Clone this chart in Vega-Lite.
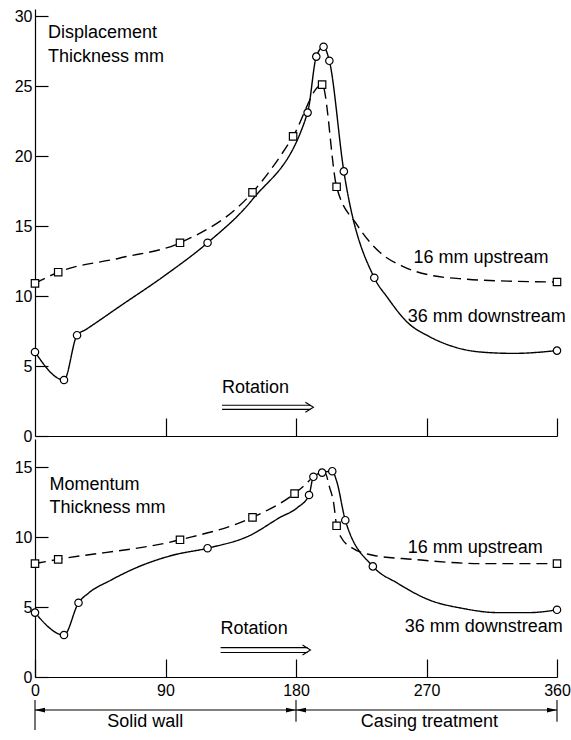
{
  "$schema": "https://vega.github.io/schema/vega-lite/v6.json",
  "background": "white",
  "padding": {"left": 14, "top": 8, "right": 0, "bottom": 0},
  "spacing": 3,
  "bounds": "flush",
  "config": {
    "view": {"stroke": null},
    "axis": {"domainColor": "black", "tickColor": "black", "labelColor": "black", "labelFont": "Liberation Sans", "labelFontSize": 16, "grid": false, "domainWidth": 1.2, "tickWidth": 1.2},
    "text": {"font": "Liberation Sans", "fontSize": 18, "color": "black"}
  },
  "vconcat": [
    {
      "width": 522,
      "height": 427,
      "encoding": {
        "x": {"field": "angle", "type": "quantitative", "scale": {"domain": [0, 360], "nice": false}, "axis": {"values": [90, 180, 270, 360], "labels": false, "tickSize": -18, "title": null}},
        "y": {"field": "thickness", "type": "quantitative", "scale": {"domain": [0, 30.5], "nice": false}, "axis": {"values": [0, 5, 10, 15, 20, 25, 30], "tickSize": -13, "labelPadding": 16, "title": null}}
      },
      "layer": [
        {
          "data": {"values": [
            {"series": "down", "angle": 0, "thickness": 6.0}, {"series": "down", "angle": 20, "thickness": 4.0}, {"series": "down", "angle": 29, "thickness": 7.2}, {"series": "down", "angle": 35, "thickness": 7.6}, {"series": "down", "angle": 59, "thickness": 9.3}, {"series": "down", "angle": 90, "thickness": 11.5}, {"series": "down", "angle": 119, "thickness": 13.8}, {"series": "down", "angle": 150, "thickness": 16.9}, {"series": "down", "angle": 188, "thickness": 23.1}, {"series": "down", "angle": 194, "thickness": 27.1}, {"series": "down", "angle": 199, "thickness": 27.8}, {"series": "down", "angle": 203, "thickness": 26.8}, {"series": "down", "angle": 213, "thickness": 18.9}, {"series": "down", "angle": 234, "thickness": 11.3}, {"series": "down", "angle": 243, "thickness": 9.9}, {"series": "down", "angle": 257, "thickness": 8.1}, {"series": "down", "angle": 272, "thickness": 7.1}, {"series": "down", "angle": 288, "thickness": 6.4}, {"series": "down", "angle": 307, "thickness": 6.0}, {"series": "down", "angle": 330, "thickness": 5.9}, {"series": "down", "angle": 360, "thickness": 6.1},
            {"series": "up", "angle": 0, "thickness": 10.9}, {"series": "up", "angle": 16, "thickness": 11.7}, {"series": "up", "angle": 58, "thickness": 12.7}, {"series": "up", "angle": 100, "thickness": 13.8}, {"series": "up", "angle": 150, "thickness": 17.4}, {"series": "up", "angle": 178, "thickness": 21.4}, {"series": "up", "angle": 198, "thickness": 25.1}, {"series": "up", "angle": 208, "thickness": 17.8}, {"series": "up", "angle": 222, "thickness": 15.1}, {"series": "up", "angle": 238, "thickness": 13.1}, {"series": "up", "angle": 254, "thickness": 12.1}, {"series": "up", "angle": 272, "thickness": 11.5}, {"series": "up", "angle": 298, "thickness": 11.2}, {"series": "up", "angle": 330, "thickness": 11.05}, {"series": "up", "angle": 360, "thickness": 11.0}
          ]},
          "mark": {"type": "line", "interpolate": "monotone", "color": "black", "strokeWidth": 1.4},
          "encoding": {"strokeDash": {"field": "series", "type": "nominal", "scale": {"domain": ["down", "up"], "range": [[1, 0], [11, 6]]}, "legend": null}}
        },
        {
          "data": {"values": [
            {"series": "down", "angle": 0, "thickness": 6.0}, {"series": "down", "angle": 20, "thickness": 4.0}, {"series": "down", "angle": 29, "thickness": 7.2}, {"series": "down", "angle": 119, "thickness": 13.8}, {"series": "down", "angle": 188, "thickness": 23.1}, {"series": "down", "angle": 194, "thickness": 27.1}, {"series": "down", "angle": 199, "thickness": 27.8}, {"series": "down", "angle": 203, "thickness": 26.8}, {"series": "down", "angle": 213, "thickness": 18.9}, {"series": "down", "angle": 234, "thickness": 11.3}, {"series": "down", "angle": 360, "thickness": 6.1},
            {"series": "up", "angle": 0, "thickness": 10.9}, {"series": "up", "angle": 16, "thickness": 11.7}, {"series": "up", "angle": 100, "thickness": 13.8}, {"series": "up", "angle": 150, "thickness": 17.4}, {"series": "up", "angle": 178, "thickness": 21.4}, {"series": "up", "angle": 198, "thickness": 25.1}, {"series": "up", "angle": 208, "thickness": 17.8}, {"series": "up", "angle": 360, "thickness": 11.0}
          ]},
          "mark": {"type": "point", "filled": true, "fill": "white", "stroke": "black", "strokeWidth": 1.2, "size": 55, "opacity": 1},
          "encoding": {"shape": {"field": "series", "type": "nominal", "scale": {"domain": ["down", "up"], "range": ["circle", "square"]}, "legend": null}}
        },
        {
          "data": {"values": [
            {"angle": 9, "thickness": 28.8, "label": "Displacement"},
            {"angle": 9, "thickness": 27.1, "label": "Thickness mm"},
            {"angle": 261, "thickness": 12.7, "label": "16 mm upstream"},
            {"angle": 257, "thickness": 8.5, "label": "36 mm downstream"},
            {"angle": 129, "thickness": 3.4, "label": "Rotation"}
          ]},
          "mark": {"type": "text", "align": "left", "baseline": "middle"},
          "encoding": {"text": {"field": "label"}}
        },
        {
          "data": {"values": [
            {"angle": 129, "angle2": 190, "thickness": 2.2},
            {"angle": 129, "angle2": 190, "thickness": 1.9}
          ]},
          "mark": {"type": "rule", "color": "black", "strokeWidth": 1.1},
          "encoding": {"x2": {"field": "angle2"}}
        },
        {
          "data": {"values": [{"angle": 192, "thickness": 2.05}]},
          "mark": {"type": "point", "shape": "M-4,-2.5L0,0L-4,2.5", "size": 16, "filled": false, "stroke": "black", "strokeWidth": 1.1, "opacity": 1},
          "encoding": {}
        }
      ]
    },
    {
      "width": 522,
      "height": 238,
      "encoding": {
        "x": {"field": "angle", "type": "quantitative", "scale": {"domain": [0, 360], "nice": false}, "axis": {"values": [0, 90, 180, 270, 360], "tickSize": -18, "labelPadding": 23, "labelFlush": false, "title": null}},
        "y": {"field": "thickness", "type": "quantitative", "scale": {"domain": [0, 17], "nice": false}, "axis": {"values": [0, 5, 10, 15], "tickSize": -13, "labelPadding": 16, "title": null}}
      },
      "layer": [
        {
          "data": {"values": [
            {"series": "down", "angle": 0, "thickness": 4.6}, {"series": "down", "angle": 20, "thickness": 3.0}, {"series": "down", "angle": 30, "thickness": 5.3}, {"series": "down", "angle": 37, "thickness": 6.0}, {"series": "down", "angle": 52, "thickness": 6.9}, {"series": "down", "angle": 72, "thickness": 7.9}, {"series": "down", "angle": 95, "thickness": 8.7}, {"series": "down", "angle": 119, "thickness": 9.2}, {"series": "down", "angle": 148, "thickness": 10.1}, {"series": "down", "angle": 169, "thickness": 11.4}, {"series": "down", "angle": 181, "thickness": 12.1}, {"series": "down", "angle": 189, "thickness": 13.0}, {"series": "down", "angle": 192, "thickness": 14.3}, {"series": "down", "angle": 198, "thickness": 14.6}, {"series": "down", "angle": 205, "thickness": 14.7}, {"series": "down", "angle": 208, "thickness": 14.0}, {"series": "down", "angle": 214, "thickness": 11.2}, {"series": "down", "angle": 233, "thickness": 7.9}, {"series": "down", "angle": 250, "thickness": 6.7}, {"series": "down", "angle": 272, "thickness": 5.5}, {"series": "down", "angle": 295, "thickness": 4.9}, {"series": "down", "angle": 319, "thickness": 4.6}, {"series": "down", "angle": 341, "thickness": 4.6}, {"series": "down", "angle": 360, "thickness": 4.8},
            {"series": "up", "angle": 0, "thickness": 8.1}, {"series": "up", "angle": 16, "thickness": 8.4}, {"series": "up", "angle": 100, "thickness": 9.8}, {"series": "up", "angle": 150, "thickness": 11.4}, {"series": "up", "angle": 179, "thickness": 13.1}, {"series": "up", "angle": 186, "thickness": 13.7}, {"series": "up", "angle": 192, "thickness": 14.3}, {"series": "up", "angle": 200, "thickness": 14.6}, {"series": "up", "angle": 203, "thickness": 13.6}, {"series": "up", "angle": 206, "thickness": 12.4}, {"series": "up", "angle": 208, "thickness": 10.8}, {"series": "up", "angle": 211, "thickness": 10.0}, {"series": "up", "angle": 219, "thickness": 9.2}, {"series": "up", "angle": 233, "thickness": 8.7}, {"series": "up", "angle": 261, "thickness": 8.4}, {"series": "up", "angle": 307, "thickness": 8.1}, {"series": "up", "angle": 360, "thickness": 8.1}
          ]},
          "mark": {"type": "line", "interpolate": "monotone", "color": "black", "strokeWidth": 1.4},
          "encoding": {"strokeDash": {"field": "series", "type": "nominal", "scale": {"domain": ["down", "up"], "range": [[1, 0], [11, 6]]}, "legend": null}}
        },
        {
          "data": {"values": [
            {"series": "down", "angle": 0, "thickness": 4.6}, {"series": "down", "angle": 20, "thickness": 3.0}, {"series": "down", "angle": 30, "thickness": 5.3}, {"series": "down", "angle": 119, "thickness": 9.2}, {"series": "down", "angle": 189, "thickness": 13.0}, {"series": "down", "angle": 192, "thickness": 14.3}, {"series": "down", "angle": 198, "thickness": 14.6}, {"series": "down", "angle": 205, "thickness": 14.7}, {"series": "down", "angle": 214, "thickness": 11.2}, {"series": "down", "angle": 233, "thickness": 7.9}, {"series": "down", "angle": 360, "thickness": 4.8},
            {"series": "up", "angle": 0, "thickness": 8.1}, {"series": "up", "angle": 16, "thickness": 8.4}, {"series": "up", "angle": 100, "thickness": 9.8}, {"series": "up", "angle": 150, "thickness": 11.4}, {"series": "up", "angle": 179, "thickness": 13.1}, {"series": "up", "angle": 208, "thickness": 10.8}, {"series": "up", "angle": 360, "thickness": 8.1}
          ]},
          "mark": {"type": "point", "filled": true, "fill": "white", "stroke": "black", "strokeWidth": 1.2, "size": 55, "opacity": 1},
          "encoding": {"shape": {"field": "series", "type": "nominal", "scale": {"domain": ["down", "up"], "range": ["circle", "square"]}, "legend": null}}
        },
        {
          "data": {"values": [
            {"angle": 10, "thickness": 13.7, "label": "Momentum"},
            {"angle": 10, "thickness": 12.1, "label": "Thickness mm"},
            {"angle": 257, "thickness": 9.2, "label": "16 mm upstream"},
            {"angle": 255, "thickness": 3.6, "label": "36 mm downstream"},
            {"angle": 128, "thickness": 3.4, "label": "Rotation"}
          ]},
          "mark": {"type": "text", "align": "left", "baseline": "middle"},
          "encoding": {"text": {"field": "label"}}
        },
        {
          "data": {"values": [
            {"angle": 76, "thickness": -3.2, "label": "Solid wall"},
            {"angle": 272, "thickness": -3.2, "label": "Casing treatment"}
          ]},
          "mark": {"type": "text", "align": "center", "baseline": "middle"},
          "encoding": {"text": {"field": "label"}}
        },
        {
          "data": {"values": [
            {"angle": 128, "angle2": 188, "thickness": 2.1},
            {"angle": 128, "angle2": 188, "thickness": 1.75},
            {"angle": 0, "angle2": 360, "thickness": -2.36}
          ]},
          "mark": {"type": "rule", "color": "black", "strokeWidth": 1.1},
          "encoding": {"x2": {"field": "angle2"}}
        },
        {
          "data": {"values": [
            {"angle": 0, "thickness": -1.64, "thickness2": -3.79},
            {"angle": 180, "thickness": -1.64, "thickness2": -3.2},
            {"angle": 360, "thickness": -1.64, "thickness2": -3.2}
          ]},
          "mark": {"type": "rule", "color": "black", "strokeWidth": 1.1},
          "encoding": {"y2": {"field": "thickness2"}}
        },
        {
          "data": {"values": [{"angle": 190, "thickness": 1.93}]},
          "mark": {"type": "point", "shape": "M-4,-2.5L0,0L-4,2.5", "size": 16, "filled": false, "stroke": "black", "strokeWidth": 1.1, "opacity": 1},
          "encoding": {}
        },
        {
          "data": {"values": [
            {"angle": 0, "thickness": -2.36},
            {"angle": 180, "thickness": -2.36}
          ]},
          "mark": {"type": "point", "shape": "M0,0L5,-1.2L5,1.2Z", "size": 16, "filled": true, "color": "black", "strokeWidth": 0, "opacity": 1},
          "encoding": {}
        },
        {
          "data": {"values": [
            {"angle": 180, "thickness": -2.36},
            {"angle": 360, "thickness": -2.36}
          ]},
          "mark": {"type": "point", "shape": "M0,0L-5,-1.2L-5,1.2Z", "size": 16, "filled": true, "color": "black", "strokeWidth": 0, "opacity": 1},
          "encoding": {}
        }
      ]
    }
  ]
}
